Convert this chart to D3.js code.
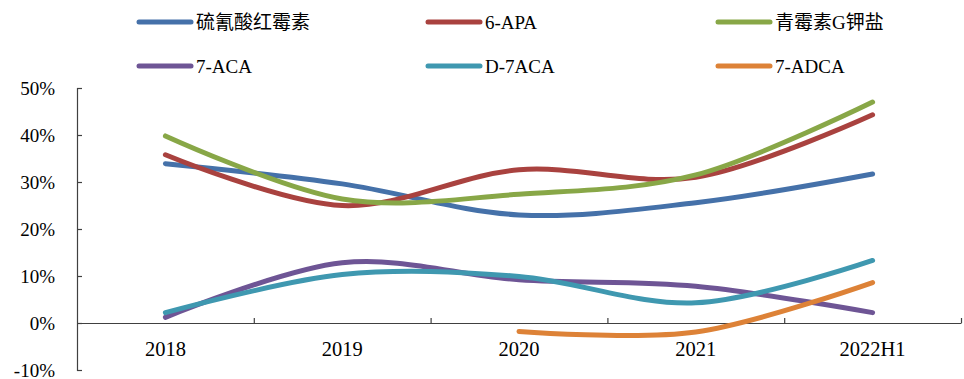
<!DOCTYPE html>
<html>
<head>
<meta charset="utf-8">
<script src="https://cdn.jsdelivr.net/npm/d3@7"></script>
<style>
  html, body { margin: 0; padding: 0; background: #fff; }
  svg text { font-family: "Liberation Serif", "Times New Roman", "Noto Sans CJK SC", serif; fill: #000; }
</style>
</head>
<body>
<svg id="chart" width="964" height="379"></svg>
<script>
// Categories and yearly growth rates (%)
const categories = ["2018", "2019", "2020", "2021", "2022H1"];
const yTicks = [-10, 0, 10, 20, 30, 40, 50];

const erythromycinThiocyanate = [33.9, 29.6, 23.0, 25.6, 31.7];
const apa6 = [35.8, 25.0, 32.6, 31.0, 44.3];
const penicillinGPotassium = [39.8, 26.4, 27.4, 31.5, 47.0];
const aca7 = [1.2, 12.8, 9.2, 7.8, 2.2];
const d7aca = [2.2, 10.3, 9.9, 4.3, 13.3];
const adca7 = [null, null, -1.8, -1.9, 8.6];

const series = [
  { name: "硫氰酸红霉素", values: erythromycinThiocyanate, color: "#4571A9" },
  { name: "6-APA", values: apa6, color: "#A9423F" },
  { name: "青霉素G钾盐", values: penicillinGPotassium, color: "#88A747" },
  { name: "7-ACA", values: aca7, color: "#6E5595" },
  { name: "D-7ACA", values: d7aca, color: "#3F98B0" },
  { name: "7-ADCA", values: adca7, color: "#DD8237" }
];

const svg = d3.select("#chart");
const plotLeft = 77, plotRight = 961, plotTop = 88, plotBottom = 370;

const x = d3.scaleBand().domain(categories).range([plotLeft, plotRight]).padding(0);
const xEdge = d3.scaleLinear().domain([0, categories.length]).range([plotLeft, plotRight]);
const y = d3.scaleLinear().domain([-10, 50]).range([plotBottom, plotTop]);
const cx = c => x(c) + x.bandwidth() / 2;

const axisColor = "#404040";

// Y axis: line with inward ticks
const yAxis = svg.append("g")
  .attr("transform", `translate(${plotLeft},0)`)
  .call(d3.axisRight(y).tickValues(yTicks).tickSize(5).tickSizeOuter(5).tickFormat(""));
yAxis.selectAll("path, line").attr("stroke", axisColor).attr("stroke-width", 1.2);

// Y tick labels
svg.append("g").selectAll("text")
  .data(yTicks)
  .join("text")
  .attr("x", 55)
  .attr("y", d => y(d) + 6.5)
  .attr("text-anchor", "end")
  .style("font-size", "19px")
  .text(d => d + "%");

// X axis at zero, ticks on category boundaries pointing up
const xAxis = svg.append("g")
  .attr("transform", `translate(0,${y(0)})`)
  .call(d3.axisTop(xEdge).tickValues(d3.range(1, categories.length + 1)).tickSize(5).tickSizeOuter(0).tickFormat(""));
xAxis.selectAll("path, line").attr("stroke", axisColor).attr("stroke-width", 1.2);

// Category labels
svg.append("g").selectAll("text")
  .data(categories)
  .join("text")
  .attr("x", d => cx(d))
  .attr("y", 356)
  .attr("text-anchor", "middle")
  .style("font-size", "20.5px")
  .text(d => d);

// Smoothed lines
const line = d3.line()
  .x(d => cx(d.c))
  .y(d => y(d.v))
  .curve(d3.curveCardinal.tension(0));

svg.append("g").selectAll("path")
  .data(series)
  .join("path")
  .attr("fill", "none")
  .attr("stroke", d => d.color)
  .attr("stroke-width", 5)
  .attr("stroke-linecap", "round")
  .attr("stroke-linejoin", "round")
  .attr("d", s => line(categories.map((c, i) => ({ c, v: s.values[i] })).filter(p => p.v !== null)));

// Legend: two rows of three
const legendCols = [137, 426, 716];
const legendRows = [22, 66];
const legend = svg.append("g").selectAll("g")
  .data(series)
  .join("g")
  .attr("transform", (d, i) => `translate(${legendCols[i % 3]},${legendRows[Math.floor(i / 3)]})`);
legend.append("line")
  .attr("x1", 2).attr("x2", 54)
  .attr("y1", 0).attr("y2", 0)
  .attr("stroke", d => d.color)
  .attr("stroke-width", 5)
  .attr("stroke-linecap", "round");
legend.append("text")
  .attr("x", 59)
  .attr("y", 7)
  .style("font-size", "19px")
  .text(d => d.name);
</script>
</body>
</html>
